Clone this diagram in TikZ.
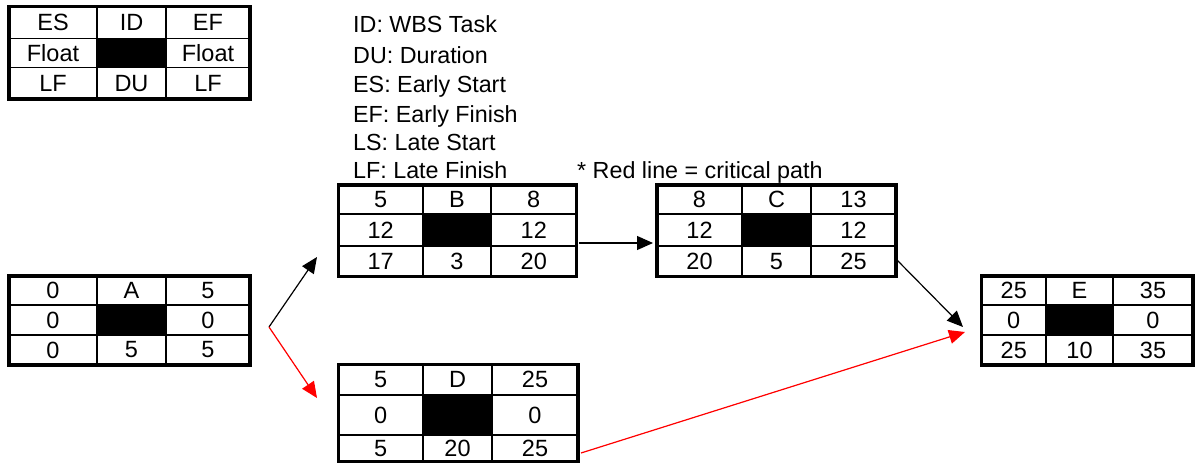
\documentclass[tikz,border=0pt]{standalone}
\usepackage{fontspec}
\setmainfont{Liberation Sans}
\usetikzlibrary{arrows.meta,fit}
\definecolor{critred}{RGB}{255,0,0}
\tikzset{
  outerb/.style={line width=3.5pt},
  innerb/.style={line width=1.8pt},
  cell/.style={font=\fontsize{23.5}{27}\selectfont, inner sep=0pt, anchor=center},
  legendtxt/.style={font=\fontsize{23.3}{27}\selectfont, anchor=base west, inner sep=0pt},
  conn/.style={line width=1.2pt, -{Triangle[length=16pt,width=14pt]}},
  crit/.style={conn, draw=critred, fill=critred}
}
% #1 name, #2 left, #3 col1, #4 col2, #5 right, #6 top, #7 row1, #8 row2, #9 bottom
\newcommand{\tbox}[9]{%
  \fill (#3,#7) rectangle (#4,#8);
  \draw[innerb] (#3,#6) -- (#3,#9) (#4,#6) -- (#4,#9) (#2,#7) -- (#5,#7) (#2,#8) -- (#5,#8);
  \draw[outerb] (#2,#6) rectangle (#5,#9);
  \coordinate (#1-11) at ({(#2+#3)/2},{(#6+#7)/2});
  \coordinate (#1-12) at ({(#3+#4)/2},{(#6+#7)/2});
  \coordinate (#1-13) at ({(#4+#5)/2},{(#6+#7)/2});
  \coordinate (#1-21) at ({(#2+#3)/2},{(#7+#8)/2});
  \coordinate (#1-23) at ({(#4+#5)/2},{(#7+#8)/2});
  \coordinate (#1-31) at ({(#2+#3)/2},{(#8+#9)/2});
  \coordinate (#1-32) at ({(#3+#4)/2},{(#8+#9)/2});
  \coordinate (#1-33) at ({(#4+#5)/2},{(#8+#9)/2});
  \coordinate (#1-nw) at (#2,#6);
  \coordinate (#1-se) at (#5,#9);
  \node[fit=(#1-nw)(#1-se), inner sep=0pt] (#1) {};
}
\newcommand{\tlabels}[9]{%
  \node[cell] (#1-t11) at (#1-11) {#2};
  \node[cell] (#1-t12) at (#1-12) {#3};
  \node[cell] (#1-t13) at (#1-13) {#4};
  \node[cell] (#1-t21) at (#1-21) {#5};
  \node[cell] (#1-t23) at (#1-23) {#6};
  \node[cell] (#1-t31) at (#1-31) {#7};
  \node[cell] (#1-t32) at (#1-32) {#8};
  \node[cell] (#1-t33) at (#1-33) {#9};
}
\begin{document}
\begin{tikzpicture}[x=1pt,y=-1pt]
\useasboundingbox (0,0) rectangle (1195,464);

% legend table
\tbox{L}{9}{97}{166}{250}{6.5}{38.5}{67.5}{99}
\tlabels{L}{ES}{ID}{EF}{Float}{Float}{LF}{DU}{LF}

% legend text
\node[legendtxt] (l1) at (353,32) {ID: WBS Task};
\node[legendtxt] (l2) at (353,63) {DU: Duration};
\node[legendtxt] (l3) at (353,92) {ES: Early Start};
\node[legendtxt] (l4) at (353,122) {EF: Early Finish};
\node[legendtxt] (l5) at (353,150) {LS: Late Start};
\node[legendtxt] (l6) at (353,178) {LF: Late Finish};
\node[legendtxt] (note) at (577,178) {* Red line = critical path};

% task boxes
\tbox{A}{9}{97}{166}{250}{276}{305}{335}{365}
\tlabels{A}{0}{A}{5}{0}{0}{0}{5}{5}

\tbox{B}{338.5}{423}{491}{576.5}{185}{214}{246}{276.5}
\tlabels{B}{5}{B}{8}{12}{12}{17}{3}{20}

\tbox{C}{657}{742}{811}{896}{185}{214}{246}{276.5}
\tlabels{C}{8}{C}{13}{12}{12}{20}{5}{25}

\tbox{D}{338.5}{423}{492}{578}{364.5}{395}{435}{461.5}
\tlabels{D}{5}{D}{25}{0}{0}{5}{20}{25}

\tbox{E}{981.5}{1046}{1113}{1193}{276}{305}{335}{365}
\tlabels{E}{25}{E}{35}{0}{0}{25}{10}{35}

% connectors
\coordinate (fork) at (269,327);
\coordinate (tipAB) at (317,257);
\coordinate (tipAD) at (317,398);
\coordinate (startBC) at (579,243);
\coordinate (tipBC) at (653,243);
\coordinate (startCE) at (895,258);
\coordinate (tipCE) at (963,327);
\coordinate (startDE) at (581,453);
\coordinate (tipDE) at (965,332);

\draw[conn] (fork) -- (tipAB);
\draw[crit] (fork) -- (tipAD);
\draw[conn] (startBC) -- (tipBC);
\draw[conn] (startCE) -- (tipCE);
\draw[crit] (startDE) -- (tipDE);
\end{tikzpicture}
\end{document}
